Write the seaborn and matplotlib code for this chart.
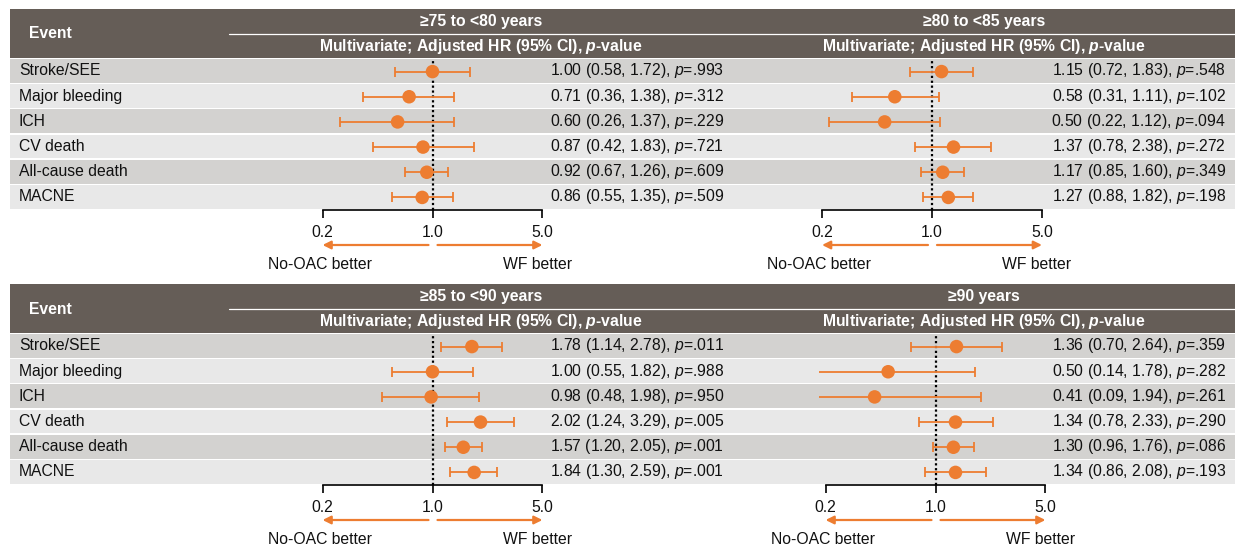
import numpy as np
import pandas as pd
import matplotlib
matplotlib.use("Agg")
import matplotlib.pyplot as plt
from matplotlib.patches import Rectangle
from matplotlib.ticker import NullLocator, FixedLocator, FixedFormatter
import seaborn as sns

# ---------------- data ----------------
events = ["Stroke/SEE", "Major bleeding", "ICH", "CV death", "All-cause death", "MACNE"]
groups = ["\u226575 to <80 years", "\u226580 to <85 years", "\u226585 to <90 years", "\u226590 years"]

hr_75 = [1.00, 0.71, 0.60, 0.87, 0.92, 0.86]
lo_75 = [0.58, 0.36, 0.26, 0.42, 0.67, 0.55]
hi_75 = [1.72, 1.38, 1.37, 1.83, 1.26, 1.35]
p_75 = [".993", ".312", ".229", ".721", ".609", ".509"]

hr_80 = [1.15, 0.58, 0.50, 1.37, 1.17, 1.27]
lo_80 = [0.72, 0.31, 0.22, 0.78, 0.85, 0.88]
hi_80 = [1.83, 1.11, 1.12, 2.38, 1.60, 1.82]
p_80 = [".548", ".102", ".094", ".272", ".349", ".198"]

hr_85 = [1.78, 1.00, 0.98, 2.02, 1.57, 1.84]
lo_85 = [1.14, 0.55, 0.48, 1.24, 1.20, 1.30]
hi_85 = [2.78, 1.82, 1.98, 3.29, 2.05, 2.59]
p_85 = [".011", ".988", ".950", ".005", ".001", ".001"]

hr_90 = [1.36, 0.50, 0.41, 1.34, 1.30, 1.34]
lo_90 = [0.70, 0.14, 0.09, 0.78, 0.96, 0.86]
hi_90 = [2.64, 1.78, 1.94, 2.33, 1.76, 2.08]
p_90 = [".359", ".282", ".261", ".290", ".086", ".193"]

tick_values = [0.2, 1.0, 5.0]
tick_labels = ["0.2", "1.0", "5.0"]
left_label = "No-OAC better"
right_label = "WF better"
sub_header = "Multivariate; Adjusted HR (95% CI), $\\mathbfit{p}$-value"

# ---------------- style ----------------
sns.set_theme(style="white")
plt.rcParams["font.family"] = ["Liberation Sans", "DejaVu Sans"]
plt.rcParams["mathtext.fontset"] = "custom"
plt.rcParams["mathtext.rm"] = "Liberation Sans"
plt.rcParams["mathtext.it"] = "Liberation Sans:italic"
plt.rcParams["mathtext.bf"] = "Liberation Sans:bold"
plt.rcParams["mathtext.bfit"] = "Liberation Sans:italic:bold"

HDR = "#655d57"
DARK = "#d3d2d0"
LIGHT = "#e8e8e8"
ORANGE = "#ed7d31"
FS = 11.3

W, H = 1237, 548
fig = plt.figure(figsize=(W / 100, H / 100), dpi=100)
bg = fig.add_axes([0, 0, 1, 1])
bg.set_xlim(0, W)
bg.set_ylim(H, 0)
bg.axis("off")

L, R = 10, 1235
tops = [9, 284]
rh = 151 / 6
k = 68.3  # px per ln unit
panel_x1 = [[432.5, 932.0], [432.5, 935.5]]
title_cx = [481, 984]
text_rx = [724, 1226]

data = [
    [(hr_75, lo_75, hi_75, p_75), (hr_80, lo_80, hi_80, p_80)],
    [(hr_85, lo_85, hi_85, p_85), (hr_90, lo_90, hi_90, p_90)],
]

for t, top in enumerate(tops):
    bg.add_patch(Rectangle((L, top), R - L, 49.3, color=HDR, lw=0))
    bg.plot([229, R], [top + 24.8] * 2, color="white", lw=0.9)
    bg.text(29, top + 25, "Event", color="white", fontsize=FS, fontweight="bold",
            ha="left", va="center")
    for i, ev in enumerate(events):
        y0 = top + 50 + i * rh
        bg.add_patch(Rectangle((L, y0), R - L, rh - 1.3,
                               color=DARK if i % 2 == 0 else LIGHT, lw=0))
        bg.text(19, y0 + rh / 2 - 0.6, ev, fontsize=FS, color="#111111",
                ha="left", va="center")
    for j in range(2):
        hr, lo, hi, pv = data[t][j]
        bg.text(title_cx[j], top + 12.5, groups[2 * t + j], color="white",
                fontsize=FS, fontweight="bold", ha="center", va="center")
        bg.text(title_cx[j], top + 37.5, sub_header, color="white",
                fontsize=FS, fontweight="bold", ha="center", va="center")
        for i in range(6):
            y0 = top + 50 + i * rh
            s = f"{hr[i]:.2f} ({lo[i]:.2f}, {hi[i]:.2f}), $\\mathit{{p}}$={pv[i]}"
            bg.text(text_rx[j], y0 + rh / 2 - 0.6, s, fontsize=FS, color="#111111",
                    ha="right", va="center")

        # forest axes
        x1 = panel_x1[t][j]
        half = 117
        row_bottom = top + 50 + 6 * rh
        ax = fig.add_axes([(x1 - half) / W, 1 - row_bottom / H, 2 * half / W, 6 * rh / H])
        ax.patch.set_alpha(0)
        ax.set_xscale("log")
        ax.set_xlim(np.exp(-half / k), np.exp(half / k))
        ax.set_ylim(5.5, -0.5)
        df = pd.DataFrame({"event": events, "pos": np.arange(6), "hr": hr,
                           "lo": lo, "hi": hi})
        ax.axvline(1.0, color="black", ls=(0, (1, 1.2)), lw=1.6, zorder=1)
        ax.errorbar(df["hr"], df["pos"],
                    xerr=[df["hr"] - df["lo"], df["hi"] - df["hr"]],
                    fmt="none", ecolor=ORANGE, elinewidth=1.3, capsize=3.8,
                    capthick=1.3, zorder=2)
        sns.scatterplot(data=df, x="hr", y="pos", ax=ax, color=ORANGE, s=95,
                        edgecolor="none", linewidth=0, zorder=3, legend=False)
        ax.set_xlabel("")
        ax.set_ylabel("")
        ax.set_yticks([])
        for sp in ["left", "right", "top"]:
            ax.spines[sp].set_visible(False)
        ax.spines["bottom"].set_visible(True)
        ax.spines["bottom"].set_color("black")
        ax.spines["bottom"].set_linewidth(1.2)
        ax.spines["bottom"].set_bounds(tick_values[0], tick_values[-1])
        ax.xaxis.set_major_locator(FixedLocator(tick_values))
        ax.xaxis.set_major_formatter(FixedFormatter(tick_labels))
        ax.xaxis.set_minor_locator(NullLocator())
        ax.tick_params(axis="x", which="major", direction="out", length=5.5,
                       width=1.2, color="black", labelsize=FS, pad=5.5,
                       labelcolor="#111111", bottom=True)
        # direction arrows and labels
        h_ax = 6 * rh
        ya = -35 / h_ax
        trans = ax.get_xaxis_transform()
        ax.annotate("", xy=(tick_values[0], ya), xytext=(np.exp(-4 / k), ya),
                    xycoords=trans, textcoords=trans, annotation_clip=False,
                    arrowprops=dict(arrowstyle="-|>", color=ORANGE, lw=1.6,
                                    mutation_scale=12, shrinkA=0, shrinkB=0))
        ax.annotate("", xy=(tick_values[-1], ya), xytext=(np.exp(5 / k), ya),
                    xycoords=trans, textcoords=trans, annotation_clip=False,
                    arrowprops=dict(arrowstyle="-|>", color=ORANGE, lw=1.6,
                                    mutation_scale=12, shrinkA=0, shrinkB=0))
        yl = -55 / h_ax
        ax.text(tick_values[0] * np.exp(-3 / k), yl, left_label, transform=trans,
                ha="center", va="center", fontsize=FS, color="#111111")
        ax.text(tick_values[-1] * np.exp(-5 / k), yl, right_label, transform=trans,
                ha="center", va="center", fontsize=FS, color="#111111")

fig.savefig("out.png", dpi=100)
